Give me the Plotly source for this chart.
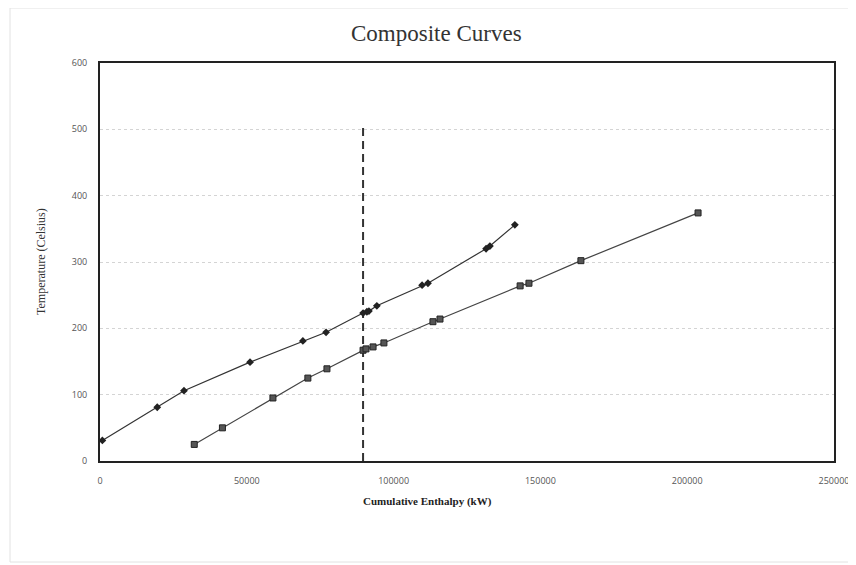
import plotly.graph_objects as go

# Hot composite curve (diamonds)
hot_enthalpy = [800, 19500, 28600, 51100, 69100, 77000, 89600, 90900, 91600, 94300,
                109700, 111700, 131500, 132800, 141300]
hot_temp = [31, 81, 106, 149, 181, 194, 223, 225, 226, 234, 265, 268, 320, 324, 356]

# Cold composite curve (squares)
cold_enthalpy = [32100, 41700, 58900, 70800, 77300, 89600, 90600, 93000, 96700,
                 113400, 115800, 143100, 146100, 163800, 203700]
cold_temp = [25, 50, 95, 125, 139, 167, 169, 172, 178, 210, 214, 264, 268, 302, 374]

# Pinch line
pinch_x = [89600, 89600]
pinch_y = [0, 505]

x_ticks = [0, 50000, 100000, 150000, 200000, 250000]
y_ticks = [0, 100, 200, 300, 400, 500, 600]

fig = go.Figure()
fig.add_trace(go.Scatter(x=pinch_x, y=pinch_y, mode="lines",
                         line=dict(color="#333333", width=2, dash="8px,5px"),
                         showlegend=False, hoverinfo="skip"))
fig.add_trace(go.Scatter(x=hot_enthalpy, y=hot_temp, mode="lines+markers",
                         line=dict(color="#333333", width=1.2),
                         marker=dict(symbol="diamond", size=6, color="#222222"),
                         showlegend=False))
fig.add_trace(go.Scatter(x=cold_enthalpy, y=cold_temp, mode="lines+markers",
                         line=dict(color="#444444", width=1.2),
                         marker=dict(symbol="square", size=6, color="#555555",
                                     line=dict(color="#222222", width=1)),
                         showlegend=False))

# page offset of 8px (body margin) is compensated in the margins
OFF = 8
W, H = 856, 565
PX0, PX1, PY0, PY1 = 100, 834, 63, 461  # plot area in page pixels
L = PX0 - OFF
T = PY0 - OFF
pw = PX1 - PX0
ph = PY1 - PY0
R = W - L - pw
B = H - T - ph


def px(x):
    return (x - PX0) / pw


def py(y):
    return (PY1 - y) / ph


fig.add_shape(type="rect", xref="paper", yref="paper",
              x0=px(10), x1=px(851), y0=py(562), y1=py(8),
              line=dict(color="#e2e2e2", width=1), layer="below")

fig.add_annotation(text="Composite Curves", xref="paper", yref="paper",
                   x=px(436), y=py(33), xanchor="center", yanchor="middle",
                   showarrow=False,
                   font=dict(family="Liberation Serif", size=23, color="#333333"))
fig.add_annotation(text="<b>Cumulative Enthalpy (kW)</b>", xref="paper", yref="paper",
                   x=px(427), y=py(501), xanchor="center", yanchor="middle",
                   showarrow=False,
                   font=dict(family="Liberation Serif", size=11, color="#222222"))
fig.add_annotation(text="Temperature (Celsius)", xref="paper", yref="paper",
                   x=px(41), y=py(262), xanchor="center", yanchor="middle",
                   showarrow=False, textangle=-90,
                   font=dict(family="Liberation Serif", size=12, color="#333333"))

fig.update_layout(
    width=W, height=H,
    margin=dict(l=L, r=R, t=T, b=B),
    paper_bgcolor="white", plot_bgcolor="white",
    xaxis=dict(range=[0, 250000], tickvals=x_ticks, ticktext=[str(v) for v in x_ticks],
               showgrid=False, zeroline=False, showline=True, mirror=True,
               linecolor="#222222", linewidth=2, ticks="",
               ticklabelstandoff=10,
               tickfont=dict(family="Open Sans", size=9, color="#555555")),
    yaxis=dict(range=[0, 600], tickvals=y_ticks, ticktext=[str(v) for v in y_ticks],
               showgrid=True, gridcolor="#d4d4d4", griddash="dot", gridwidth=1,
               zeroline=False, showline=True, mirror=True,
               linecolor="#222222", linewidth=2, ticks="",
               ticklabelstandoff=9,
               tickfont=dict(family="Open Sans", size=9, color="#555555")),
)

fig.write_html("out.html")
